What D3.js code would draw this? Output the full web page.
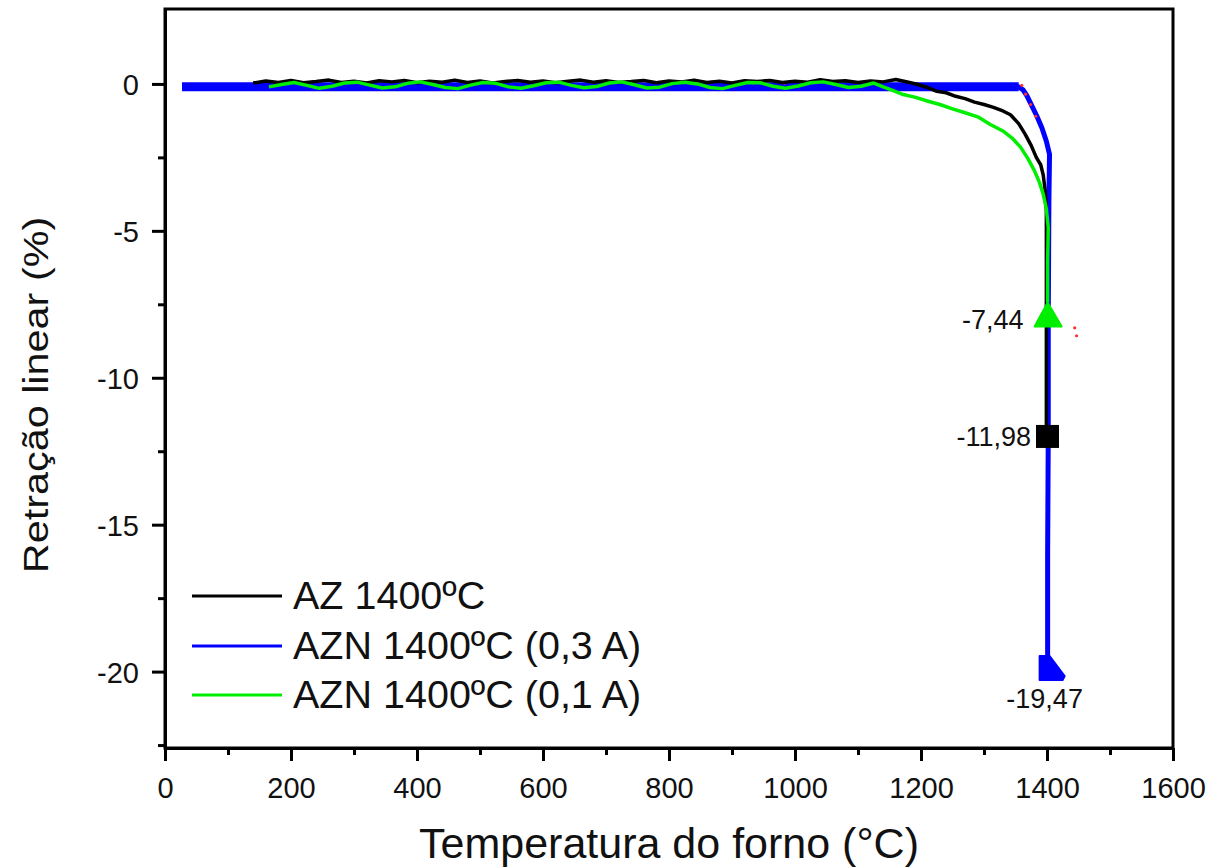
<!DOCTYPE html>
<html>
<head>
<meta charset="utf-8">
<script src="https://cdn.jsdelivr.net/npm/d3@7"></script>
<style>
  body { margin: 0; background: #fff; }
  text { font-family: "Liberation Sans", Arial, sans-serif; fill: #111; }
</style>
</head>
<body>
<script>
// Dados
const xMajor = [0, 200, 400, 600, 800, 1000, 1200, 1400, 1600];
const xMinor = [100, 300, 500, 700, 900, 1100, 1300, 1500];
const xTickLabels = ["0", "200", "400", "600", "800", "1000", "1200", "1400", "1600"];
const yMajor = [0, -5, -10, -15, -20];
const yMinor = [-2.5, -7.5, -12.5, -17.5, -22.5];
const yTickLabels = ["0", "-5", "-10", "-15", "-20"];

const seriesNames = ["AZ 1400ºC", "AZN 1400ºC (0,3 A)", "AZN 1400ºC (0,1 A)"];
const seriesColors = ["#000000", "#0000ff", "#00ee00"];

// AZ 1400ºC: trecho plano (de 140 °C a cada 20 °C) + queda final
const azFlatStart = 140, azFlatStep = 20;
const azFlat = [0.03,0.10,0.05,0.12,0.04,0.08,0.13,0.05,0.09,0.03,
  0.11,0.07,0.12,0.04,0.09,0.06,0.13,0.05,0.10,0.03,
  0.08,0.12,0.06,0.10,0.04,0.09,0.13,0.06,0.11,0.05,
  0.08,0.12,0.04,0.10,0.07,0.13,0.05,0.09,0.03,0.11,
  0.08,0.12,0.05,0.09,0.06,0.14,0.08,0.11,0.05,0.10,
  0.07,0.15,0.06];
const azDropT = [1195,1210,1225,1240,1255,1270,1285,1300,1315,1330,1342,1355,1365,1375,1383,1390,1394,1397,1399,1399,1399];
const azDropR = [-0.02,-0.12,-0.25,-0.30,-0.42,-0.50,-0.62,-0.70,-0.80,-0.92,-1.05,-1.35,-1.70,-2.10,-2.50,-2.75,-3.10,-3.60,-4.30,-6.00,-11.98];

// AZN 1400ºC (0,1 A): trecho plano (de 165 °C a cada 20 °C) + queda final
const g1FlatStart = 165, g1FlatStep = 20;
const g1Flat = [-0.10,-0.02,0.05,-0.05,-0.15,-0.08,0.03,0.06,-0.04,-0.14,
  -0.10,0.02,0.07,-0.02,-0.12,-0.16,-0.04,0.05,0.02,-0.10,
  -0.15,-0.06,0.04,0.06,-0.05,-0.13,-0.09,0.03,0.07,-0.03,
  -0.14,-0.11,0.01,0.06,0.00,-0.12,-0.16,-0.05,0.05,0.04,
  -0.08,-0.15,-0.07,0.04,0.07,-0.02,-0.12,-0.08,0.03];
const g1DropT = [1140,1155,1170,1190,1210,1230,1250,1270,1290,1310,1330,1345,1358,1370,1380,1388,1394,1399,1402,1401,1401];
const g1DropR = [-0.10,-0.22,-0.35,-0.45,-0.58,-0.70,-0.85,-0.98,-1.12,-1.38,-1.60,-1.85,-2.15,-2.55,-2.95,-3.35,-3.75,-4.25,-4.90,-6.00,-7.44];

// AZN 1400ºC (0,3 A)
const b3T = [27, 200, 400, 600, 800, 1000, 1200, 1355, 1362, 1368, 1376, 1384, 1392, 1399, 1404, 1403, 1402, 1402, 1401, 1401, 1401];
const b3R = [-0.10, -0.10, -0.10, -0.10, -0.10, -0.10, -0.10, -0.10, -0.20, -0.40, -0.75, -1.10, -1.50, -1.95, -2.40, -4.00, -8.00, -12.00, -16.00, -18.50, -19.47];

// pontos vermelhos soltos
const redT = [925, 983, 1360, 1366, 1374, 1382, 1444, 1447];
const redR = [0.05, 0.03, -0.05, -0.35, -0.70, -1.10, -8.30, -8.57];

// valores finais destacados
const endT = [1401, 1400, 1401];
const endR = [-7.44, -11.98, -19.47];
const endLabels = ["-7,44", "-11,98", "-19,47"];

const W = 1220, H = 868;
const svg = d3.select("body").append("svg").attr("width", W).attr("height", H);

const x = d3.scaleLinear().domain([0, 1600]).range([165, 1173]);
const y = d3.scaleLinear().domain([2.55, -22.6]).range([9, 748]);

// monta as séries
const az = azFlat.map((v, i) => [azFlatStart + i * azFlatStep, v])
  .concat(azDropT.map((t, i) => [t, azDropR[i]]));
const g1 = g1Flat.map((v, i) => [g1FlatStart + i * g1FlatStep, v])
  .concat(g1DropT.map((t, i) => [t, g1DropR[i]]));
const b3 = b3T.map((t, i) => [t, b3R[i]]);

const line = d3.line().x(d => x(d[0])).y(d => y(d[1]));

const plot = svg.append("g");

// azul grosso no patamar
plot.append("path").datum(b3.filter(d => d[0] <= 1360))
  .attr("d", line).attr("fill", "none").attr("stroke", seriesColors[1]).attr("stroke-width", 9);
plot.append("path").datum(b3)
  .attr("d", line).attr("fill", "none").attr("stroke", seriesColors[1]).attr("stroke-width", 5)
  .attr("stroke-linejoin", "round");

plot.selectAll(".red").data(redT).enter().append("circle")
  .attr("cx", (d) => x(d)).attr("cy", (d, i) => y(redR[i])).attr("r", 1.6).attr("fill", "#ff3030");

plot.append("path").datum(az)
  .attr("d", line).attr("fill", "none").attr("stroke", seriesColors[0]).attr("stroke-width", 3.5)
  .attr("stroke-linejoin", "round");
plot.append("path").datum(g1)
  .attr("d", line).attr("fill", "none").attr("stroke", seriesColors[2]).attr("stroke-width", 3.5)
  .attr("stroke-linejoin", "round");

// marcadores
const gx = x(endT[0]), gy = y(endR[0]);
plot.append("path").attr("d", `M${gx},${gy} L${gx + 14},${gy + 24} L${gx - 13},${gy + 24} Z`)
  .attr("fill", seriesColors[2]).attr("stroke", seriesColors[2]).attr("stroke-width", 2).attr("stroke-linejoin", "round");
const kx = x(endT[1]), ky = y(endR[1]);
plot.append("rect").attr("x", kx - 11).attr("y", ky - 11).attr("width", 23).attr("height", 23).attr("fill", "#000");
const bx = x(endT[2]), by = y(endR[2]);
plot.append("path").attr("d", `M${bx - 8},${by} L${bx + 2},${by} L${bx + 17},${by + 20} L${bx + 15},${by + 24} L${bx - 8},${by + 24} Z`)
  .attr("fill", seriesColors[1]).attr("stroke", seriesColors[1]).attr("stroke-width", 2).attr("stroke-linejoin", "round");

// rótulos dos valores finais
svg.append("text").attr("x", gx - 24).attr("y", gy + 26).attr("text-anchor", "end")
  .attr("font-size", 27).text(endLabels[0]);
svg.append("text").attr("x", kx - 16).attr("y", ky + 10).attr("text-anchor", "end")
  .attr("font-size", 27).text(endLabels[1]);
svg.append("text").attr("x", bx - 3).attr("y", by + 52).attr("text-anchor", "middle")
  .attr("font-size", 27).text(endLabels[2]);

// moldura
svg.append("rect").attr("x", 165).attr("y", 9).attr("width", 1008).attr("height", 739)
  .attr("fill", "none").attr("stroke", "#000").attr("stroke-width", 3);

// eixos
const xAxis = svg.append("g").attr("transform", "translate(0,748)")
  .call(d3.axisBottom(x).tickValues(xMajor).tickSize(13).tickSizeOuter(0)
    .tickFormat((d, i) => xTickLabels[i]));
const xAxisMinor = svg.append("g").attr("transform", "translate(0,748)")
  .call(d3.axisBottom(x).tickValues(xMinor).tickSize(7).tickSizeOuter(0).tickFormat(""));
const yAxis = svg.append("g").attr("transform", "translate(165,0)")
  .call(d3.axisLeft(y).tickValues(yMajor).tickSize(13).tickSizeOuter(0)
    .tickFormat((d, i) => yTickLabels[i]));
const yAxisMinor = svg.append("g").attr("transform", "translate(165,0)")
  .call(d3.axisLeft(y).tickValues(yMinor).tickSize(7).tickSizeOuter(0).tickFormat(""));

[xAxis, xAxisMinor, yAxis, yAxisMinor].forEach(a => {
  a.select(".domain").attr("stroke-width", 3);
  a.selectAll(".tick line").attr("stroke-width", 3);
  a.selectAll("text").attr("font-size", 29).attr("font-family", null).attr("fill", "#111");
});
xAxis.selectAll("text").attr("dy", null).attr("y", 50);
yAxis.selectAll("text").attr("x", -26).attr("dy", "0.36em");

// títulos dos eixos
svg.append("text").attr("x", 669).attr("y", 858)
  .attr("text-anchor", "middle").attr("font-size", 43).text("Temperatura do forno (°C)");
svg.append("text").attr("transform", "translate(48,395) rotate(-90) scale(1.15,1)")
  .attr("text-anchor", "middle").attr("font-size", 36).text("Retração linear (%)");

// legenda
const legY = [596, 646, 695];
const legend = svg.selectAll(".leg").data(seriesNames).enter().append("g");
legend.append("line").attr("x1", 192).attr("x2", 282)
  .attr("y1", (d, i) => legY[i]).attr("y2", (d, i) => legY[i])
  .attr("stroke", (d, i) => seriesColors[i]).attr("stroke-width", 3);
legend.append("text").attr("x", 293).attr("y", (d, i) => legY[i] + 13)
  .attr("font-size", 39.5).text(d => d);
</script>
</body>
</html>
